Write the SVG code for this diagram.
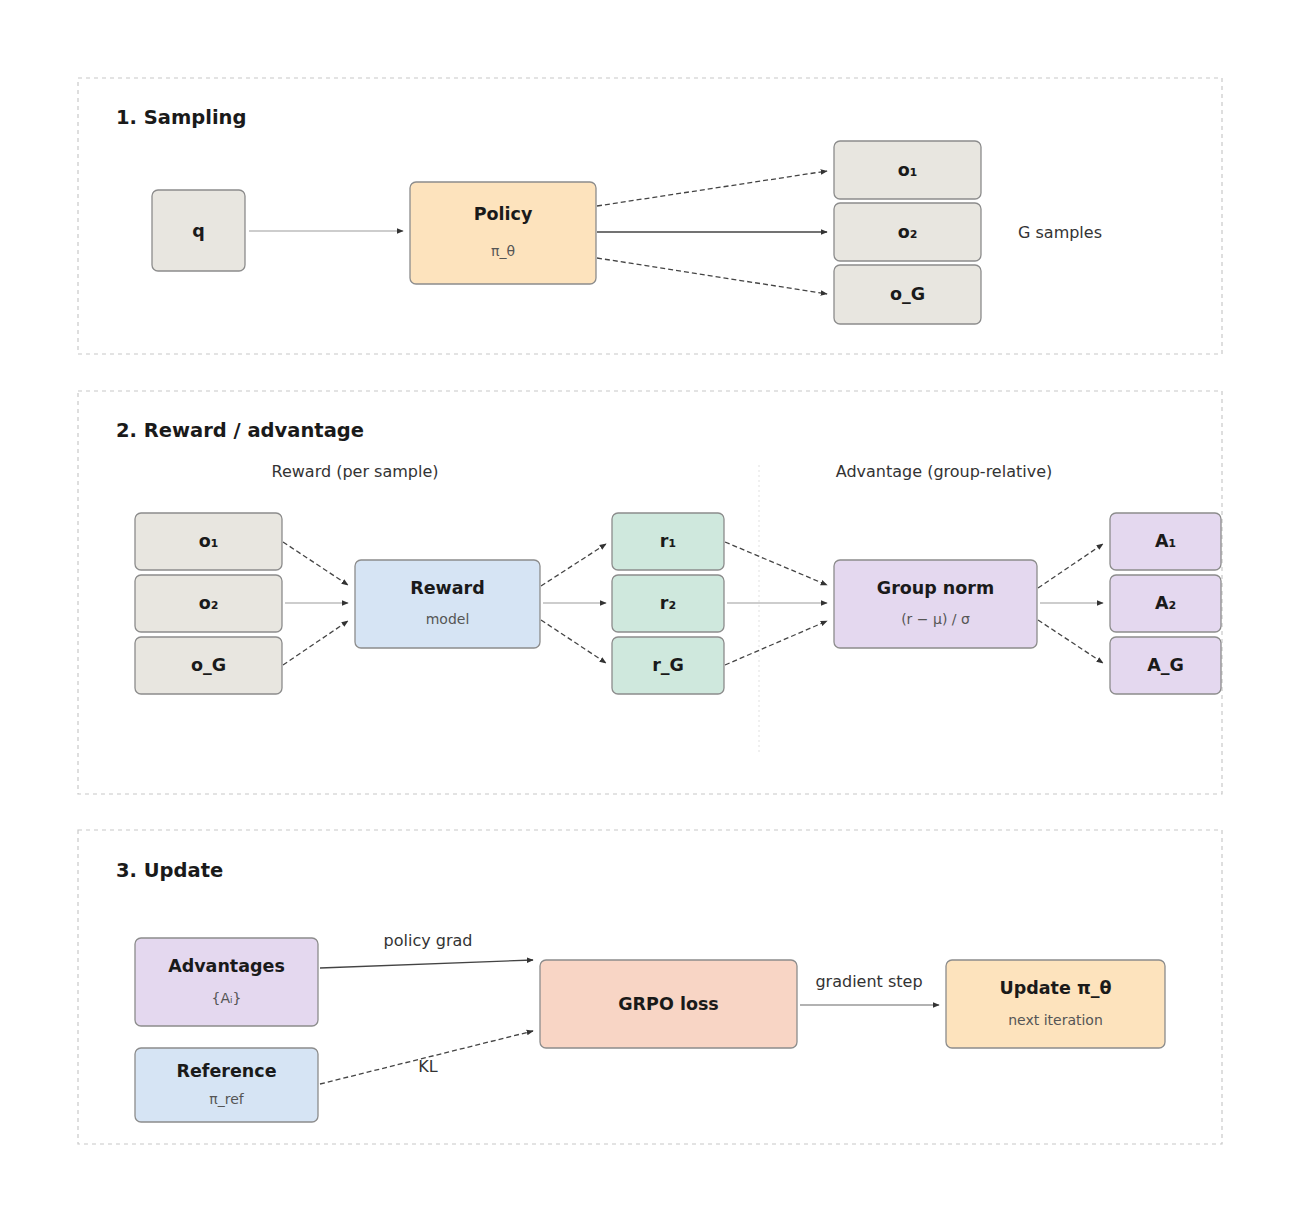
<svg xmlns="http://www.w3.org/2000/svg" width="1300" height="1223" viewBox="0 0 1300 1223">
<style>
.bg{fill:#ffffff}
.panel{fill:none;stroke:#c8c8c8;stroke-width:1.2;stroke-dasharray:4 4}
.ptitle{font-family:"DejaVu Sans",sans-serif;font-weight:bold;font-size:19.5px;fill:#1a1a1a}
.node rect{stroke:#8c8c8c;stroke-width:1.3}
.t{font-family:"DejaVu Sans",sans-serif;font-weight:bold;font-size:17.5px;fill:#1a1a1a;text-anchor:middle}
.s{font-family:"DejaVu Sans",sans-serif;font-size:14px;fill:#555;text-anchor:middle}
.lab{font-family:"DejaVu Sans",sans-serif;font-size:16px;fill:#333}
.grey{fill:#e8e6e0}.orange{fill:#fde3bd}.blue{fill:#d6e4f4}.green{fill:#cfe8dd}.purple{fill:#e4d8ef}.salmon{fill:#f8d5c5}
.c{fill:none;stroke:#444;stroke-width:1.3;marker-end:url(#ah)}
.cd{fill:none;stroke:#444;stroke-width:1.3;stroke-dasharray:5 3;marker-end:url(#ah)}
.cl{fill:none;stroke:#bdbdbd;stroke-width:1.5;marker-end:url(#ah)}
.sep{stroke:#e0e0e0;stroke-width:1;stroke-dasharray:2 3}
</style>
<defs>
<marker id="ah" viewBox="0 0 10 10" refX="9" refY="5" markerWidth="7" markerHeight="7" orient="auto" markerUnits="userSpaceOnUse">
<path d="M0,1 L10,5 L0,9 z" fill="#333"/>
</marker>
</defs>
<rect class="bg" x="0" y="0" width="1300" height="1223"/>

<g id="panels">
<rect class="panel" x="78" y="78" width="1144" height="276"/>
<text class="ptitle" x="116" y="124">1. Sampling</text>
<rect class="panel" x="78" y="391" width="1144" height="403"/>
<text class="ptitle" x="116" y="437">2. Reward / advantage</text>
<text class="lab" x="355" y="477" text-anchor="middle">Reward (per sample)</text>
<text class="lab" x="944" y="477" text-anchor="middle">Advantage (group-relative)</text>
<line class="sep" x1="759" y1="465" x2="759" y2="755"/>
<rect class="panel" x="78" y="830" width="1144" height="314"/>
<text class="ptitle" x="116" y="877">3. Update</text>
</g>

<g id="connectors">
<path class="cl" d="M249,231 L403,231"/>
<path class="cd" d="M597,206 L827,171"/>
<path class="c" d="M597,232 L827,232"/>
<path class="cd" d="M597,258 L827,294"/>

<path class="cd" d="M283,542 L348,585"/>
<path class="cl" d="M285,603 L348,603"/>
<path class="cd" d="M283,665 L348,621"/>
<path class="cd" d="M541,586 L606,544"/>
<path class="cl" d="M543,603 L606,603"/>
<path class="cd" d="M541,620 L606,663"/>
<path class="cd" d="M725,542 L827,585"/>
<path class="cl" d="M727,603 L827,603"/>
<path class="cd" d="M725,665 L827,621"/>
<path class="cd" d="M1038,588 L1103,544"/>
<path class="cl" d="M1040,603 L1103,603"/>
<path class="cd" d="M1038,620 L1103,663"/>

<path class="c" d="M320,968 L533,960"/>
<text class="lab" x="428" y="946" text-anchor="middle">policy grad</text>
<path class="cd" d="M320,1084 L533,1031"/>
<text class="lab" x="428" y="1072" text-anchor="middle">KL</text>
<path class="cl" d="M800,1005 L939,1005" style="stroke:#999"/>
<text class="lab" x="869" y="987" text-anchor="middle">gradient step</text>
</g>

<g id="n_q" class="node"><rect class="grey" x="152" y="190" width="93" height="81" rx="6"/><text class="t" x="198.5" y="237">q</text></g>
<g id="n_policy" class="node"><rect class="orange" x="410" y="182" width="186" height="102" rx="6"/><text class="t" x="503" y="220">Policy</text><text class="s" x="503" y="256">π_θ</text></g>
<g id="n_o1" class="node"><rect class="grey" x="834" y="141" width="147" height="58" rx="6"/><text class="t" x="907.5" y="176">o₁</text></g>
<g id="n_o2" class="node"><rect class="grey" x="834" y="203" width="147" height="58" rx="6"/><text class="t" x="907.5" y="238">o₂</text></g>
<g id="n_oG" class="node"><rect class="grey" x="834" y="265" width="147" height="59" rx="6"/><text class="t" x="907.5" y="300">o_G</text></g>
<text class="lab" x="1018" y="238">G samples</text>

<g id="n2_o1" class="node"><rect class="grey" x="135" y="513" width="147" height="57" rx="6"/><text class="t" x="208.5" y="547">o₁</text></g>
<g id="n2_o2" class="node"><rect class="grey" x="135" y="575" width="147" height="57" rx="6"/><text class="t" x="208.5" y="609">o₂</text></g>
<g id="n2_oG" class="node"><rect class="grey" x="135" y="637" width="147" height="57" rx="6"/><text class="t" x="208.5" y="671">o_G</text></g>
<g id="n_reward" class="node"><rect class="blue" x="355" y="560" width="185" height="88" rx="6"/><text class="t" x="447.5" y="594">Reward</text><text class="s" x="447.5" y="624">model</text></g>
<g id="n_r1" class="node"><rect class="green" x="612" y="513" width="112" height="57" rx="6"/><text class="t" x="668" y="547">r₁</text></g>
<g id="n_r2" class="node"><rect class="green" x="612" y="575" width="112" height="57" rx="6"/><text class="t" x="668" y="609">r₂</text></g>
<g id="n_rG" class="node"><rect class="green" x="612" y="637" width="112" height="57" rx="6"/><text class="t" x="668" y="671">r_G</text></g>
<g id="n_groupnorm" class="node"><rect class="purple" x="834" y="560" width="203" height="88" rx="6"/><text class="t" x="935.5" y="594">Group norm</text><text class="s" x="935.5" y="624">(r − μ) / σ</text></g>
<g id="n_A1" class="node"><rect class="purple" x="1110" y="513" width="111" height="57" rx="6"/><text class="t" x="1165.5" y="547">A₁</text></g>
<g id="n_A2" class="node"><rect class="purple" x="1110" y="575" width="111" height="57" rx="6"/><text class="t" x="1165.5" y="609">A₂</text></g>
<g id="n_AG" class="node"><rect class="purple" x="1110" y="637" width="111" height="57" rx="6"/><text class="t" x="1165.5" y="671">A_G</text></g>

<g id="n_adv" class="node"><rect class="purple" x="135" y="938" width="183" height="88" rx="6"/><text class="t" x="226.5" y="972">Advantages</text><text class="s" x="226.5" y="1003">{Aᵢ}</text></g>
<g id="n_ref" class="node"><rect class="blue" x="135" y="1048" width="183" height="74" rx="6"/><text class="t" x="226.5" y="1077">Reference</text><text class="s" x="226.5" y="1104">π_ref</text></g>
<g id="n_grpo" class="node"><rect class="salmon" x="540" y="960" width="257" height="88" rx="6"/><text class="t" x="668.5" y="1010">GRPO loss</text></g>
<g id="n_update" class="node"><rect class="orange" x="946" y="960" width="219" height="88" rx="6"/><text class="t" x="1055.5" y="994">Update π_θ</text><text class="s" x="1055.5" y="1025">next iteration</text></g>
</svg>
